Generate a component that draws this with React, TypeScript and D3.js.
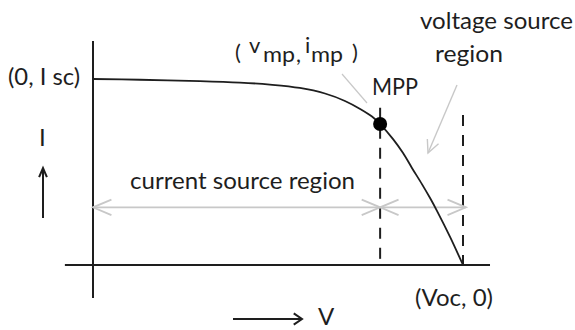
import React from 'react';
import * as d3 from 'd3';

// normalised I-V curve of a PV cell (V / Voc, I / Isc)
const voltage = [0, 0.127, 0.289, 0.397, 0.478, 0.559, 0.627, 0.681, 0.722, 0.754, 0.776, 0.811, 0.838, 0.862, 0.889, 0.911, 0.93, 0.965, 1.0];
const current = [1.0, 0.996, 0.989, 0.981, 0.97, 0.952, 0.922, 0.882, 0.839, 0.798, 0.758, 0.677, 0.602, 0.522, 0.435, 0.36, 0.29, 0.151, 0];
const mpp = { v: 0.776, i: 0.758 };
const voc = 1.0;

const W = 575;
const H = 330;
const FONT = 'Lato, "Open Sans", sans-serif';
const INK = '#1e1e1e';
const GRAY = '#c8c8c8';

const App = () => {
  const x = d3.scaleLinear().domain([0, 1]).range([93, 463]);
  const y = d3.scaleLinear().domain([0, 1]).range([265, 79]);

  const pts: [number, number][] = voltage.map((v, k) => [v, current[k]]);
  const line = d3
    .line<[number, number]>()
    .x(d => x(d[0]))
    .y(d => y(d[1]))
    .curve(d3.curveCatmullRom.alpha(0.5));

  const arrowY = y(0.31);

  // open chevron arrow head at (tx, ty) pointing from (fx, fy)
  const head = (fx: number, fy: number, tx: number, ty: number, len = 16, spread = 0.45) => {
    const a = Math.atan2(ty - fy, tx - fx);
    const p1 = [tx - len * Math.cos(a - spread), ty - len * Math.sin(a - spread)];
    const p2 = [tx - len * Math.cos(a + spread), ty - len * Math.sin(a + spread)];
    return `M${p1[0]},${p1[1]}L${tx},${ty}L${p2[0]},${p2[1]}`;
  };

  const fit = { lengthAdjust: 'spacingAndGlyphs' as const };

  return (
    <svg width={W} height={H} style={{ position: 'absolute', left: 0, top: 0, background: '#fff' }}>
      {/* axes */}
      <line x1={x(0)} x2={x(0)} y1={y(1.204)} y2={y(-0.177)} stroke={INK} strokeWidth={2} />
      <line x1={x(-0.076)} x2={x(1.073)} y1={y(0)} y2={y(0)} stroke={INK} strokeWidth={2} />

      {/* dashed verticals at Vmp and Voc */}
      <line x1={x(mpp.v)} x2={x(mpp.v)} y1={y(0.845)} y2={y(0)} stroke={INK} strokeWidth={2} strokeDasharray="11,9" />
      <line x1={x(voc)} x2={x(voc)} y1={y(0.817)} y2={y(0)} stroke={INK} strokeWidth={2} strokeDasharray="11,9" strokeDashoffset={-2} />

      {/* region arrows */}
      <g stroke={GRAY} strokeWidth={1.8} fill="none">
        <line x1={x(0)} x2={x(mpp.v)} y1={arrowY} y2={arrowY} />
        <path d={head(x(mpp.v), arrowY, x(0), arrowY, 20, 0.4)} />
        <path d={head(x(0), arrowY, x(mpp.v), arrowY, 20, 0.4)} />
        <line x1={x(mpp.v)} x2={x(1.008)} y1={arrowY} y2={arrowY} />
        <path d={head(x(1.008), arrowY, x(mpp.v), arrowY, 20, 0.4)} />
        <path d={head(x(mpp.v), arrowY, x(1.008), arrowY, 20, 0.4)} />
        {/* pointer lines */}
        <line x1={342} y1={74} x2={367} y2={103} strokeWidth={1.2} />
        <line x1={457} y1={85} x2={428} y2={153} strokeWidth={1.4} />
        <path d={head(457, 85, 428, 153, 14, 0.45)} strokeWidth={1.4} />
      </g>

      {/* I-V curve */}
      <path d={line(pts) ?? ''} fill="none" stroke={INK} strokeWidth={1.8} />
      <circle cx={x(mpp.v)} cy={y(mpp.i)} r={7} fill="#000" />

      {/* axis direction arrows */}
      <g stroke={INK} strokeWidth={2} fill="none">
        <line x1={43} x2={43} y1={218} y2={169} />
        <path d={head(43, 218, 43, 168, 10, 0.4)} />
        <line x1={233} x2={302} y1={319} y2={319} />
        <path d={head(233, 319, 302, 319, 10, 0.6)} />
      </g>

      {/* labels */}
      <g fontFamily={FONT} fill={INK} fontSize={24}>
        <text x={8} y={85} textLength={72} {...fit}>(0, I sc)</text>
        <text x={39} y={146}>I</text>
        <text x={130} y={189} textLength={225} {...fit}>current source region</text>
        <g fontSize={22}>
          <text x={235} y={60}>(</text>
          <text x={249} y={53}>v</text>
          <text x={263} y={62} textLength={32} {...fit}>mp</text>
          <text x={296} y={62}>,</text>
          <text x={305} y={53}>i</text>
          <text x={311} y={62} textLength={32} {...fit}>mp</text>
          <text x={352} y={60}>)</text>
        </g>
        <text x={372} y={95} textLength={46} {...fit}>MPP</text>
        <text x={420} y={29} textLength={153} {...fit}>voltage source</text>
        <text x={435} y={62} textLength={68} {...fit}>region</text>
        <text x={415} y={306} textLength={78} {...fit}>(Voc, 0)</text>
        <text x={318} y={325}>V</text>
      </g>
    </svg>
  );
};

export default App;
